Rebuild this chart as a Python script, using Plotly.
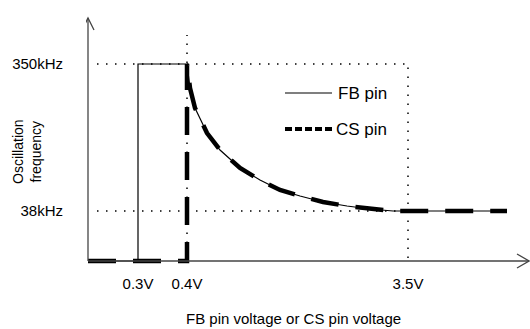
import plotly.graph_objects as go

# Schematic positions along the voltage axis (one unit per pixel of plot width)
V_03, V_04, V_35 = 50, 99, 320
# Schematic frequency levels (one unit per pixel of plot height)
F_38K, F_350K = 50, 197

x_ticks = [V_03, V_04, V_35]
x_ticktext = ["0.3V", "0.4V", "3.5V"]
y_ticks = [F_38K, F_350K]
y_ticktext = ["38kHz", "350kHz"]

# Frequency fall-off after the 0.4V knee, shared by both pins
decay_x = [99, 102, 107, 119, 132, 152, 172, 192, 212, 235, 259, 282, 305, 320, 419]
decay_y = [197, 173, 153, 128, 111, 93, 81, 71, 65, 59, 55, 52, 50, 50, 50]

fb_x = [0, V_03, V_03] + decay_x
fb_y = [0, 0, F_350K] + decay_y

cs_x = [0, V_04] + decay_x
cs_y = [0, 0] + decay_y

FONT = "Liberation Sans, Arial, sans-serif"
W, H = 530, 329
ML, MB = 86, 60
PW, PH = W - ML, H - MB


def px_to_paper(px, py):
    return (px - ML) / PW, (PH - py) / PH


fig = go.Figure()
fig.add_trace(go.Scatter(x=fb_x, y=fb_y, mode="lines",
                         line=dict(color="black", width=1.2), showlegend=False,
                         name="FB pin"))
fig.add_trace(go.Scatter(x=cs_x, y=cs_y, mode="lines",
                         line=dict(color="black", width=4.5, dash="28px,17px"),
                         showlegend=False, name="CS pin"))

dot = dict(color="black", width=1.5, dash="1.5px,7.5px")
axis_line = dict(color="#444", width=1.3)
shapes = [
    # dotted guide lines
    dict(type="line", x0=9, x1=V_35, y0=F_350K, y1=F_350K, line=dot, layer="below"),
    dict(type="line", x0=9, x1=V_35, y0=F_38K, y1=F_38K, line=dot, layer="below"),
    dict(type="line", x0=V_04, x1=V_04, y0=0, y1=226, line=dot, layer="below"),
    dict(type="line", x0=V_35, x1=V_35, y0=3, y1=199, line=dot, layer="below"),
    # axes with arrow heads
    dict(type="line", x0=0, x1=441, y0=0, y1=0, line=axis_line),
    dict(type="path", path="M 429 7 L 441 0 L 429 -7", line=axis_line),
    dict(type="line", x0=0, x1=0, y0=0, y1=243, line=axis_line),
    dict(type="path", path="M -6 231 L 0 243 L 6 231", line=axis_line),
    # legend samples
    dict(type="line", x0=197, x1=244, y0=168, y1=168, line=dict(color="black", width=1.2)),
    dict(type="line", x0=197, x1=244, y0=132, y1=132,
         line=dict(color="black", width=4, dash="7px,3px")),
]

tx, ty = px_to_paper(293, 318)
yx, yy = px_to_paper(27, 152)
annotations = [
    dict(x=248, y=168, text="FB pin", showarrow=False, xanchor="left",
         yanchor="middle", font=dict(family=FONT, size=17, color="black")),
    dict(x=246, y=132, text="CS pin", showarrow=False, xanchor="left",
         yanchor="middle", font=dict(family=FONT, size=17, color="black")),
    dict(x=tx, y=ty, xref="paper", yref="paper", text="FB pin voltage or CS pin voltage",
         showarrow=False, xanchor="center", yanchor="middle",
         font=dict(family=FONT, size=15, color="black")),
    dict(x=yx, y=yy, xref="paper", yref="paper", text="Oscillation<br>frequency",
         showarrow=False, textangle=-90, xanchor="center", yanchor="middle",
         font=dict(family=FONT, size=14, color="black")),
]

fig.update_layout(
    width=W, height=H,
    margin=dict(l=ML, r=0, t=0, b=MB),
    paper_bgcolor="white", plot_bgcolor="white",
    shapes=shapes, annotations=annotations,
    xaxis=dict(range=[-2, 442], showgrid=False, zeroline=False, showline=False,
               tickvals=x_ticks, ticktext=x_ticktext, ticks="",
               ticklabelstandoff=4,
               tickfont=dict(family=FONT, size=15, color="black")),
    yaxis=dict(range=[-8, 261], showgrid=False, zeroline=False, showline=False,
               tickvals=y_ticks, ticktext=y_ticktext, ticks="",
               ticklabelstandoff=22,
               tickfont=dict(family=FONT, size=15, color="black")),
)

fig.write_html("out.html")
